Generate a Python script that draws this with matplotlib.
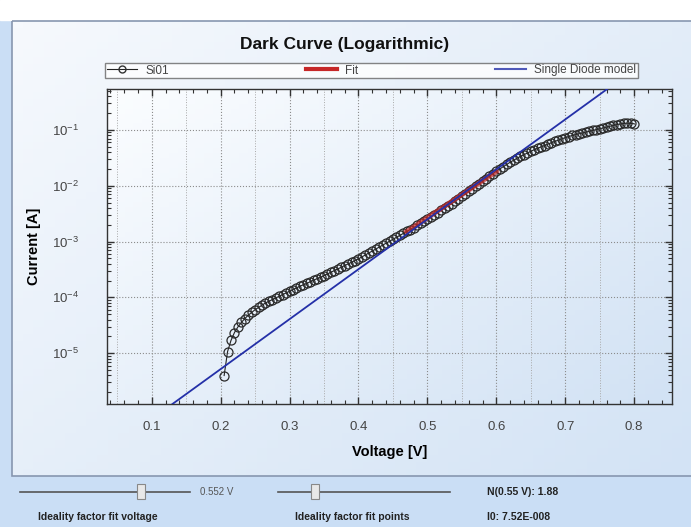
import numpy as np
import matplotlib
matplotlib.use('Agg')
import matplotlib.pyplot as plt
from matplotlib.patches import Rectangle
from matplotlib.lines import Line2D
from matplotlib.ticker import LogLocator, MultipleLocator, NullFormatter

plt.rcParams['font.family'] = ['Liberation Sans', 'DejaVu Sans']

voltage = [
    0.205, 0.210, 0.215, 0.220, 0.225, 0.230, 0.235, 0.240, 0.245, 0.250,
    0.255, 0.260, 0.265, 0.270, 0.275, 0.280, 0.285, 0.290, 0.295, 0.300,
    0.305, 0.310, 0.315, 0.320, 0.325, 0.330, 0.335, 0.340, 0.345, 0.350,
    0.355, 0.360, 0.365, 0.370, 0.375, 0.380, 0.385, 0.390, 0.395, 0.400,
    0.405, 0.410, 0.415, 0.420, 0.425, 0.430, 0.435, 0.440, 0.445, 0.450,
    0.455, 0.460, 0.465, 0.470, 0.475, 0.480, 0.485, 0.490, 0.495, 0.500,
    0.505, 0.510, 0.515, 0.520, 0.525, 0.530, 0.535, 0.540, 0.545, 0.550,
    0.555, 0.560, 0.565, 0.570, 0.575, 0.580, 0.585, 0.590, 0.595, 0.600,
    0.605, 0.610, 0.615, 0.620, 0.625, 0.630, 0.635, 0.640, 0.645, 0.650,
    0.655, 0.660, 0.665, 0.670, 0.675, 0.680, 0.685, 0.690, 0.695, 0.700,
    0.705, 0.710, 0.715, 0.720, 0.725, 0.730, 0.735, 0.740, 0.745, 0.750,
    0.755, 0.760, 0.765, 0.770, 0.775, 0.780, 0.785, 0.790, 0.795, 0.800,
]
current_exp = [
    -5.40, -4.97, -4.77, -4.63, -4.53, -4.45, -4.38, -4.32, -4.27, -4.22,
    -4.18, -4.14, -4.10, -4.07, -4.04, -4.01, -3.98, -3.95, -3.92, -3.89,
    -3.86, -3.83, -3.80, -3.775, -3.75, -3.72, -3.69, -3.665, -3.64, -3.61,
    -3.58, -3.55, -3.52, -3.49, -3.46, -3.43, -3.40, -3.37, -3.34, -3.31,
    -3.275, -3.24, -3.205, -3.17, -3.135, -3.10, -3.065, -3.03, -2.995, -2.96,
    -2.925, -2.89, -2.855, -2.82, -2.785, -2.75, -2.71, -2.67, -2.635, -2.60,
    -2.56, -2.52, -2.48, -2.44, -2.40, -2.36, -2.32, -2.28, -2.235, -2.19,
    -2.145, -2.10, -2.055, -2.01, -1.965, -1.92, -1.875, -1.83, -1.785, -1.74,
    -1.70, -1.66, -1.62, -1.58, -1.545, -1.51, -1.475, -1.445, -1.415, -1.385,
    -1.355, -1.33, -1.305, -1.28, -1.255, -1.23, -1.205, -1.185, -1.16, -1.14,
    -1.12, -1.10, -1.085, -1.07, -1.055, -1.04, -1.025, -1.01, -0.995, -0.98,
    -0.965, -0.95, -0.935, -0.92, -0.905, -0.895, -0.885, -0.88, -0.885, -0.89,
]
current = [10 ** e for e in current_exp]

# fit segment and single diode model line (end points)
fit_v = [0.470, 0.600]
fit_i = [1.5e-3, 1.8e-2]
model_v = [0.130, 0.761]
model_i = [1.23e-6, 0.54]

x_ticks = [0.1, 0.2, 0.3, 0.4, 0.5, 0.6, 0.7, 0.8]
fit_voltage_text = "0.552 V"
n_text = "N(0.55 V): 1.88"
i0_text = "I0: 7.52E-008"

W, H = 691, 527
fig = plt.figure(figsize=(W / 100, H / 100), dpi=100)
fig.patch.set_facecolor('#cadef5')


def px(x0, y0, x1, y1):
    """Figure fraction rect from pixel box (top-left origin)."""
    return [x0 / W, 1 - y1 / H, (x1 - x0) / W, (y1 - y0) / H]


# Background: white strip, framed gradient panel, blue bottom bar
bg = fig.add_axes([0, 0, 1, 1], zorder=-10)
bg.set_xlim(0, W)
bg.set_ylim(H, 0)
bg.axis('off')
bg.add_patch(Rectangle((0, 0), W, 20, color='white', zorder=1))
gx, gy = np.meshgrid(np.linspace(0, 1, 64), np.linspace(0, 1, 64))
grad = 0.55 * gx + 0.45 * gy
panel_cmap = matplotlib.colors.LinearSegmentedColormap.from_list(
    'panel', ['#f6f9fd', '#d3e3f5'])
bg.imshow(grad, cmap=panel_cmap, extent=(12, W + 2, 476, 21),
          aspect='auto', zorder=2)
bg.add_patch(Rectangle((12, 21), W, 455, fill=False,
                       edgecolor='#8797b0', linewidth=1.2, zorder=3))

# Main plot
ax = fig.add_axes(px(107, 89, 672, 404))
ax.set_facecolor('none')
plot_cmap = matplotlib.colors.LinearSegmentedColormap.from_list(
    'plot', ['#fbfdff', '#d2e2f4'])
ax.imshow(grad, cmap=plot_cmap, extent=(0, 1, 0, 1), transform=ax.transAxes,
          aspect='auto', zorder=0)

ax.set_yscale('log')
ax.set_xlim(0.035, 0.855)
ax.set_ylim(1.23e-6, 0.54)

ax.plot(voltage, current, color='#222222', linewidth=0.8, marker='o',
        markersize=6.5, markerfacecolor='none', markeredgecolor='#2a2a2a',
        markeredgewidth=0.9, zorder=3)
ax.plot(fit_v, fit_i, color='#c62828', linewidth=3.6, alpha=0.7, zorder=4)
ax.plot(model_v, model_i, color='#2430a8', linewidth=1.3, zorder=5)

ax.set_xticks(x_ticks)
ax.set_xticklabels([f"{t:.1f}" for t in x_ticks])
ax.xaxis.set_minor_locator(MultipleLocator(0.02))
ax.yaxis.set_major_locator(LogLocator(base=10, numticks=20))
ax.yaxis.set_minor_locator(LogLocator(base=10, subs=np.arange(2, 10), numticks=20))
ax.yaxis.set_minor_formatter(NullFormatter())

ax.tick_params(which='both', direction='in', top=True, right=True,
               colors='#333333', labelcolor='#444444', labelsize=9.5)
ax.tick_params(which='major', length=5, width=1.0)
ax.tick_params(which='minor', length=3, width=0.8)
ax.tick_params(axis='x', pad=12)
ax.tick_params(axis='y', pad=20)

ax.grid(True, which='major', linestyle=':', color='#8c8c8c', linewidth=0.8)
for t in x_ticks:
    ax.axvline(t - 0.05, linestyle=':', color='#a8a8a8', linewidth=0.7, zorder=1)
for spine in ax.spines.values():
    spine.set_color('#333333')
    spine.set_linewidth(1.0)

ax.set_xlabel("Voltage [V]", fontsize=10.5, fontweight='bold', labelpad=9)
ax.set_ylabel("Current [A]", fontsize=10.5, fontweight='bold', labelpad=8)
fig.text(345 / W, 1 - 44 / H, "Dark Curve (Logarithmic)", fontsize=12.5,
         fontweight='bold', ha='center', va='center', color='#111111')

# Legend strip
handles = [
    Line2D([], [], color='#222222', linewidth=0.8, marker='o', markersize=5,
           markerfacecolor='none', markeredgecolor='#333333'),
    Line2D([], [], color='#c62828', linewidth=3),
    Line2D([], [], color='#2430a8', linewidth=1.5, alpha=0.8),
]
leg = fig.legend(handles, ["Si01", "Fit", "Single Diode model"], ncol=3,
                 mode='expand', bbox_to_anchor=px(105, 63, 638, 78),
                 loc='center', fontsize=8.5, frameon=True, fancybox=False,
                 borderpad=0.15, handlelength=2.6, handletextpad=0.7,
                 borderaxespad=0)
leg.get_frame().set_edgecolor('#666666')
leg.get_frame().set_linewidth(1.0)
leg.get_frame().set_facecolor('white')
for txt in leg.get_texts():
    txt.set_color('#444444')

# Bottom controls (sliders and fit results)
bg.plot([20, 190], [492, 492], color='#555555', linewidth=1.2, zorder=4)
bg.add_patch(Rectangle((137, 484), 8, 15, facecolor='#e8e8e8',
                       edgecolor='#888888', linewidth=0.8, zorder=5))
bg.plot([278, 450], [492, 492], color='#555555', linewidth=1.2, zorder=4)
bg.add_patch(Rectangle((311, 484), 8, 15, facecolor='#e8e8e8',
                       edgecolor='#888888', linewidth=0.8, zorder=5))
bg.text(200, 492, fit_voltage_text, fontsize=7, color='#555555',
        va='center', zorder=6)
bg.text(487, 492, n_text, fontsize=7.5, fontweight='bold', color='#222222',
        va='center', zorder=6)
bg.text(38, 517, "Ideality factor fit voltage", fontsize=7.5,
        fontweight='bold', color='#222222', va='center', zorder=6)
bg.text(295, 517, "Ideality factor fit points", fontsize=7.5,
        fontweight='bold', color='#222222', va='center', zorder=6)
bg.text(487, 517, i0_text, fontsize=7.5, fontweight='bold', color='#222222',
        va='center', zorder=6)

fig.savefig('out.png', dpi=100, facecolor=fig.get_facecolor())
